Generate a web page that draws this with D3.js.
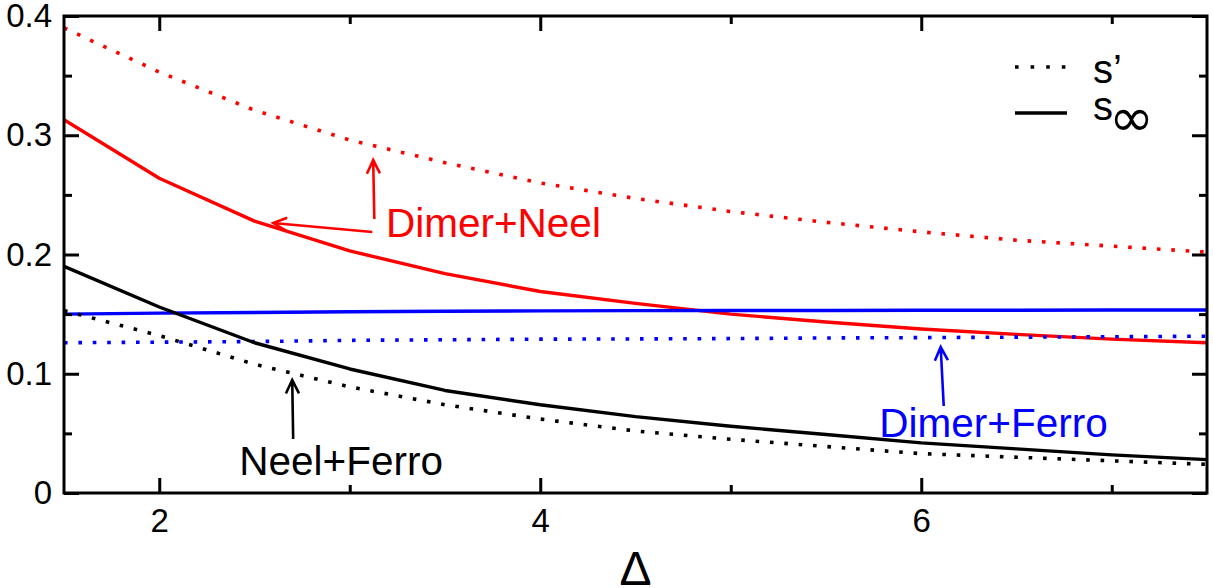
<!DOCTYPE html>
<html>
<head>
<meta charset="utf-8">
<script src="https://cdn.jsdelivr.net/npm/d3@7"></script>
<style>
  body { margin: 0; background: #fff; }
  svg { display: block; font-family: "Liberation Sans", Arial, Helvetica, sans-serif; }
</style>
</head>
<body>
<div id="chart"></div>
<script>
// Delta values where the curves were computed
var deltas = [1.5, 2, 2.5, 3, 3.5, 4, 4.5, 5, 5.5, 6, 6.5, 7, 7.5];

// Dimer+Neel
var dimerNeelSPrime = [0.390, 0.353, 0.321, 0.296, 0.277, 0.260, 0.247, 0.236, 0.227, 0.219, 0.212, 0.207, 0.202];
var dimerNeelSInf   = [0.313, 0.264, 0.228, 0.203, 0.184, 0.169, 0.159, 0.150, 0.1434, 0.1375, 0.133, 0.129, 0.126];
// Dimer+Ferro
var dimerFerroSPrime = [0.126, 0.1265, 0.127, 0.128, 0.1285, 0.129, 0.1292, 0.1295, 0.130, 0.1303, 0.1307, 0.131, 0.1315];
var dimerFerroSInf   = [0.150, 0.1508, 0.1514, 0.152, 0.1524, 0.1527, 0.1529, 0.153, 0.1531, 0.1532, 0.1533, 0.1534, 0.1535];
// Neel+Ferro
var neelFerroSPrime = [0.153, 0.132, 0.108, 0.089, 0.074, 0.062, 0.052, 0.045, 0.039, 0.033, 0.030, 0.027, 0.024];
var neelFerroSInf   = [0.190, 0.156, 0.126, 0.104, 0.086, 0.074, 0.064, 0.056, 0.049, 0.042, 0.037, 0.032, 0.028];

var xMajor = [2, 4, 6];
var xMinor = [3, 5, 7];
var yMajor = [0, 0.1, 0.2, 0.3, 0.4];
var yMinor = [0.05, 0.15, 0.25, 0.35];

// annotation labels and arrows, in data coordinates
var labels = [
  {text: "Dimer+Neel", x: 3.19, y: 0.2147, color: "#ff0000"},
  {text: "Neel+Ferro", x: 2.42, y: 0.0151, color: "#000000"},
  {text: "Dimer+Ferro", x: 5.78, y: 0.047, color: "#0000ff"}
];
var arrows = [
  {x0: 3.129, y0: 0.2298, x1: 3.123, y1: 0.2792, color: "#ff0000"},
  {x0: 3.118, y0: 0.2189, x1: 2.598, y1: 0.2264, color: "#ff0000"},
  {x0: 2.703, y0: 0.0453, x1: 2.698, y1: 0.0948, color: "#000000"},
  {x0: 6.118, y0: 0.073, x1: 6.102, y1: 0.1224, color: "#0000ff"}
];

var widthSvg = 1213,
    heightSvg = 588;

var svg = d3.select("#chart").append("svg")
    .attr("width", widthSvg)
    .attr("height", heightSvg),
    margin = {top: 16, right: 6, bottom: 95, left: 64},
    width = widthSvg - margin.left - margin.right,
    height = heightSvg - margin.top - margin.bottom,
    g = svg.append("g").attr("transform",
        "translate(" + margin.left + "," + margin.top + ")");

var xScale = d3.scaleLinear().domain([1.5, 7.5]).range([0, width]);
var yScale = d3.scaleLinear().domain([0, 0.4]).range([height, 0]);

var series = [
  {values: dimerNeelSPrime, color: "#ff0000", dotted: true},
  {values: dimerNeelSInf, color: "#ff0000", dotted: false},
  {values: dimerFerroSPrime, color: "#0000ff", dotted: true},
  {values: dimerFerroSInf, color: "#0000ff", dotted: false},
  {values: neelFerroSPrime, color: "#000000", dotted: true},
  {values: neelFerroSInf, color: "#000000", dotted: false}
];

var line = d3.line()
    .x(function (d, i) { return xScale(deltas[i]); })
    .y(function (d) { return yScale(d); });

g.append("defs").append("clipPath").attr("id", "clip")
  .append("rect").attr("width", width).attr("height", height);

g.append("g")
    .attr("clip-path", "url(#clip)")
    .selectAll("path")
    .data(series)
    .enter().append("path")
    .attr("d", function (d) { return line(d.values); })
    .attr("fill", "none")
    .attr("stroke", function (d) { return d.color; })
    .attr("stroke-width", function (d) { return d.dotted ? 3.6 : 3.4; })
    .attr("stroke-dasharray", function (d) { return d.dotted ? "3.6,10.8" : null; })
    .attr("stroke-linejoin", "round");

// axes: ticks point inward, mirrored on top and right
function styleAxis(sel) {
  sel.select(".domain").remove();
  sel.selectAll(".tick line").attr("stroke", "#000").attr("stroke-width", 3);
  sel.selectAll(".tick text").attr("fill", "#000");
}

g.append("g")
    .attr("transform", "translate(0," + height + ")")
    .call(d3.axisBottom(xScale).tickValues(xMajor).tickSize(-15).tickPadding(16).tickFormat(d3.format("d")))
    .attr("font-size", 33).attr("font-family", null)
    .call(styleAxis);
g.append("g")
    .attr("transform", "translate(0," + height + ")")
    .call(d3.axisBottom(xScale).tickValues(xMinor).tickSize(-8).tickFormat(""))
    .call(styleAxis);
g.append("g")
    .call(d3.axisTop(xScale).tickValues(xMajor).tickSize(-15).tickFormat(""))
    .call(styleAxis);
g.append("g")
    .call(d3.axisTop(xScale).tickValues(xMinor).tickSize(-8).tickFormat(""))
    .call(styleAxis);

g.append("g")
    .call(d3.axisLeft(yScale).tickValues(yMajor).tickSize(-15).tickPadding(12)
      .tickFormat(function (d) { return d === 0 ? "0" : d3.format(".1f")(d); }))
    .attr("font-size", 33).attr("font-family", null)
    .call(styleAxis);
g.append("g")
    .call(d3.axisLeft(yScale).tickValues(yMinor).tickSize(-8).tickFormat(""))
    .call(styleAxis);
g.append("g")
    .attr("transform", "translate(" + width + ",0)")
    .call(d3.axisRight(yScale).tickValues(yMajor).tickSize(-15).tickFormat(""))
    .call(styleAxis);
g.append("g")
    .attr("transform", "translate(" + width + ",0)")
    .call(d3.axisRight(yScale).tickValues(yMinor).tickSize(-8).tickFormat(""))
    .call(styleAxis);

g.append("rect")
    .attr("width", width)
    .attr("height", height)
    .attr("fill", "none")
    .attr("stroke", "#000")
    .attr("stroke-width", 3);

// x axis title
g.append("text")
    .attr("x", width / 2)
    .attr("y", height + 92)
    .attr("text-anchor", "middle")
    .attr("font-size", 48)
    .text("\u0394");

// annotations
g.append("g").selectAll("text")
    .data(labels)
    .enter().append("text")
    .attr("x", function (d) { return xScale(d.x); })
    .attr("y", function (d) { return yScale(d.y); })
    .attr("fill", function (d) { return d.color; })
    .attr("font-size", 40.5)
    .text(function (d) { return d.text; });

function arrowPath(d) {
  var x0 = xScale(d.x0), y0 = yScale(d.y0), x1 = xScale(d.x1), y1 = yScale(d.y1);
  var a = Math.atan2(y1 - y0, x1 - x0), len = 15, spread = 0.45;
  var p1 = [x1 - len * Math.cos(a - spread), y1 - len * Math.sin(a - spread)];
  var p2 = [x1 - len * Math.cos(a + spread), y1 - len * Math.sin(a + spread)];
  return "M" + x0 + "," + y0 + "L" + x1 + "," + y1 +
    "M" + p1[0] + "," + p1[1] + "L" + x1 + "," + y1 + "L" + p2[0] + "," + p2[1];
}

g.append("g").selectAll("path")
    .data(arrows)
    .enter().append("path")
    .attr("d", arrowPath)
    .attr("fill", "none")
    .attr("stroke", function (d) { return d.color; })
    .attr("stroke-width", 2.6);

// legend
var legend = svg.append("g").attr("transform", "translate(1015,0)");
legend.append("line")
    .attr("x1", 0).attr("x2", 52).attr("y1", 67).attr("y2", 67)
    .attr("stroke", "#000").attr("stroke-width", 3.6)
    .attr("stroke-dasharray", "3.6,12");
legend.append("line")
    .attr("x1", 0).attr("x2", 52).attr("y1", 113).attr("y2", 113)
    .attr("stroke", "#000").attr("stroke-width", 3.6);
legend.append("text")
    .attr("x", 78).attr("y", 83)
    .attr("font-size", 40)
    .text("s\u2019");
legend.append("text")
    .attr("x", 78).attr("y", 120)
    .attr("font-size", 40)
    .text("s");
legend.append("text")
    .attr("x", 94).attr("y", 136)
    .attr("font-size", 54)
    .attr("font-family", "DejaVu Sans")
    .text("\u221e");
</script>
</body>
</html>
